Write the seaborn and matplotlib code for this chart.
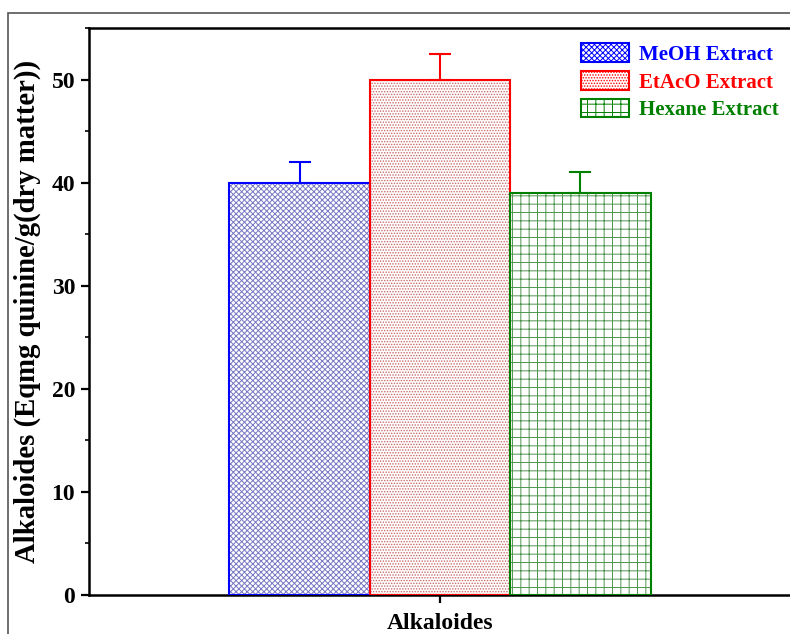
import matplotlib
matplotlib.use("Agg")
import matplotlib.pyplot as plt
from matplotlib.patches import Rectangle
import seaborn as sns
import pandas as pd

# Alkaloid content per extract
extracts = ["MeOH Extract", "EtAcO Extract", "Hexane Extract"]
alkaloids = [40.0, 50.0, 39.0]
errors = [2.0, 2.5, 2.0]
edge_colors = ["#0000ff", "#ff0000", "#008000"]
hatch_colors = ["#7878c4", "#c86868", "#4f944f"]
hatches = ["xxxxxx", "......", "-|-|"]
group_label = "Alkaloides"
y_label = "Alkaloides (Eqmg quinine/g(dry matter))"
y_ticks = [0, 10, 20, 30, 40, 50]

sns.set_theme(style="white")
plt.rcParams["font.family"] = ["Liberation Serif", "DejaVu Serif"]
plt.rcParams["font.weight"] = "bold"
plt.rcParams["text.color"] = "black"
plt.rcParams["axes.labelcolor"] = "black"
plt.rcParams["xtick.color"] = "black"
plt.rcParams["ytick.color"] = "black"
plt.rcParams["hatch.linewidth"] = 0.7

df = pd.DataFrame({"extract": extracts, "value": alkaloids})

fig = plt.figure(figsize=(7.9, 6.34), dpi=100)
ax = fig.add_axes([89 / 790, 1 - 595 / 634, (791 - 89) / 790, (595 - 28) / 634])

sns.barplot(data=df, x="extract", y="value", order=extracts, width=1.0,
            color="white", saturation=1, ax=ax, errorbar=None, legend=False)

# hatch fill in a lighter tone, then a crisp outline on top
for patch, hc, h in zip(ax.patches, hatch_colors, hatches):
    patch.set_facecolor("white")
    patch.set_edgecolor(hc)
    patch.set_hatch(h)
    patch.set_linewidth(0)

xpos = list(range(len(extracts)))
ax.bar(xpos, alkaloids, width=1.0, fill=False,
       edgecolor=edge_colors, linewidth=1.5, zorder=3)

for x, v, e, c in zip(xpos, alkaloids, errors, edge_colors):
    ax.errorbar([x], [v], yerr=[[0], [e]], fmt="none", ecolor=c,
                elinewidth=1.5, capsize=8, capthick=1.5, zorder=4)

ax.set_xlim(-1.5, 3.5)
ax.set_ylim(0, 55)
ax.set_xticks([1])
ax.set_xticklabels([])
ax.set_yticks(y_ticks)
ax.set_yticks([5, 15, 25, 35, 45, 55], minor=True)
ax.tick_params(axis="y", which="major", direction="out", length=6, width=1.6,
               left=True, labelsize=17, pad=4, colors="black")
ax.tick_params(axis="y", which="minor", direction="out", length=3, width=1.2,
               left=True, colors="black")
ax.tick_params(axis="x", which="major", direction="out", length=6, width=1.6,
               bottom=True, colors="black")
for lab in ax.get_yticklabels():
    lab.set_fontweight("bold")

ax.set_xlabel(group_label, fontsize=17, fontweight="bold", color="black")
ax.xaxis.set_label_coords(0.5, -0.031)
ax.xaxis.label.set_verticalalignment("top")
ax.set_ylabel(y_label, fontsize=20.7, fontweight="bold", color="black")
ax.yaxis.set_label_coords(-0.068, 0.5)

for side in ["left", "bottom", "top"]:
    ax.spines[side].set_visible(True)
    ax.spines[side].set_color("black")
    ax.spines[side].set_linewidth(1.8)
ax.spines["right"].set_visible(False)

# legend with hatched swatches and coloured labels
handles = []
for hc, ec, h in zip(hatch_colors, edge_colors, hatches):
    handles.append(Rectangle((0, 0), 1, 1, facecolor="white", edgecolor=ec,
                             hatch=h, linewidth=1.5))
leg = ax.legend(handles, extracts, loc="upper right", frameon=False,
                prop={"weight": "bold", "size": 15}, handlelength=2.3,
                handleheight=1.0, handletextpad=0.45, labelspacing=0.3,
                bbox_to_anchor=(1.0, 0.995), borderaxespad=0.2)
for txt, ec in zip(leg.get_texts(), edge_colors):
    txt.set_color(ec)

# page frame
fig.patches.append(Rectangle((8 / 790, -0.1), 1.2, 1 - 13 / 634 + 0.1,
                             transform=fig.transFigure, fill=False,
                             edgecolor="#555555", linewidth=1.2))

fig.savefig("out.png", dpi=100)
